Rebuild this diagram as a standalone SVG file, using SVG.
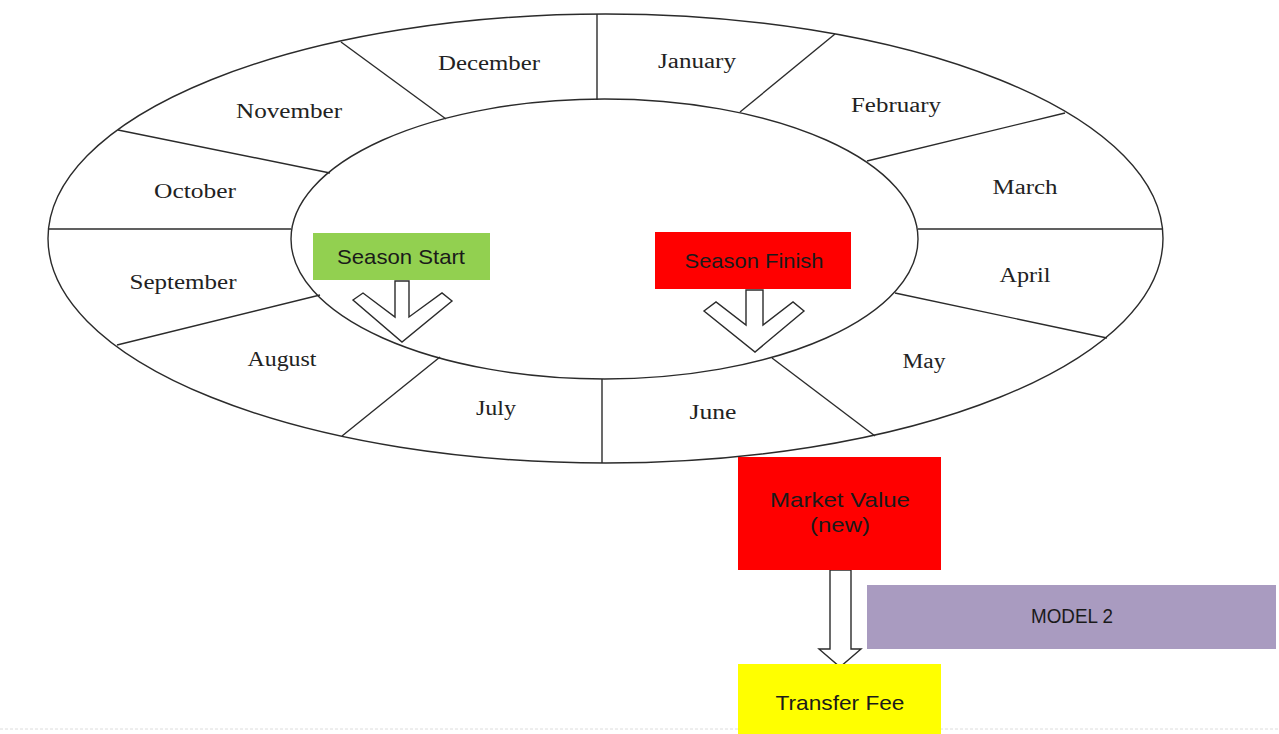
<svg xmlns="http://www.w3.org/2000/svg" width="1279" height="734" viewBox="0 0 1279 734">
<style>
.ring{fill:none;stroke:#2b2b2b;stroke-width:1.4}
.div{stroke:#2b2b2b;stroke-width:1.4}
.month{font-family:"Liberation Serif","DejaVu Serif",serif;font-size:20px;fill:#222;text-anchor:middle}
.lbl{font-family:"Liberation Sans","DejaVu Sans",sans-serif;font-size:21px;fill:#1a1a1a;text-anchor:middle}
.arrow{fill:#fff;stroke:#2b2b2b;stroke-width:1.4;stroke-linejoin:miter}
</style>
<rect width="1279" height="734" fill="#fff"/>
<line x1="0" y1="729" x2="1279" y2="729" stroke="#dcdcdc" stroke-width="1" stroke-dasharray="3,2"/>
<g id="wheel">
<ellipse class="ring" cx="605.5" cy="238.5" rx="557.5" ry="224.5"/>
<ellipse class="ring" cx="604.5" cy="239" rx="313.5" ry="140"/>
</g>
<g id="connectors">
<line class="div" x1="597" y1="14" x2="597" y2="100"/>
<line class="div" x1="341" y1="42" x2="446" y2="119"/>
<line class="div" x1="118" y1="130" x2="330" y2="173"/>
<line class="div" x1="48" y1="229" x2="291" y2="229"/>
<line class="div" x1="117" y1="345" x2="320" y2="295"/>
<line class="div" x1="342" y1="436" x2="440" y2="357"/>
<line class="div" x1="602" y1="379" x2="602" y2="463"/>
<line class="div" x1="772" y1="358" x2="875" y2="436"/>
<line class="div" x1="895" y1="293" x2="1107" y2="338"/>
<line class="div" x1="918" y1="229" x2="1163" y2="229"/>
<line class="div" x1="867" y1="161" x2="1065" y2="113"/>
<line class="div" x1="740" y1="112" x2="835" y2="34"/>
<polygon class="arrow" points="395,281 395,317 363,293 353,300 402,342 452,301 442,293 409,317 409,281"/>
<polygon class="arrow" points="746,290 746,325 716,302 704,311 755,352 804,311 793,302 763,325 763,290"/>
<polygon class="arrow" points="830,570 830,649 819,649 840,667 861,649 851,649 851,570"/>
</g>
<g id="months">
<text class="month" x="489" y="70" textLength="102" lengthAdjust="spacingAndGlyphs">December</text>
<text class="month" x="697" y="68" textLength="78" lengthAdjust="spacingAndGlyphs">January</text>
<text class="month" x="896" y="112" textLength="90" lengthAdjust="spacingAndGlyphs">February</text>
<text class="month" x="1025" y="194" textLength="65" lengthAdjust="spacingAndGlyphs">March</text>
<text class="month" x="1025" y="282" textLength="51" lengthAdjust="spacingAndGlyphs">April</text>
<text class="month" x="924" y="368" textLength="43" lengthAdjust="spacingAndGlyphs">May</text>
<text class="month" x="713" y="419" textLength="47" lengthAdjust="spacingAndGlyphs">June</text>
<text class="month" x="496" y="415" textLength="40" lengthAdjust="spacingAndGlyphs">July</text>
<text class="month" x="282" y="366" textLength="69" lengthAdjust="spacingAndGlyphs">August</text>
<text class="month" x="183" y="289" textLength="107" lengthAdjust="spacingAndGlyphs">September</text>
<text class="month" x="195" y="198" textLength="82" lengthAdjust="spacingAndGlyphs">October</text>
<text class="month" x="289" y="118" textLength="106" lengthAdjust="spacingAndGlyphs">November</text>
</g>
<g id="season-start">
<rect x="313" y="233" width="177" height="47" fill="#92D050"/>
<text class="lbl" x="401" y="264" textLength="128" lengthAdjust="spacingAndGlyphs">Season Start</text>
</g>
<g id="season-finish">
<rect x="655" y="232" width="196" height="57" fill="#FF0000"/>
<text class="lbl" x="754" y="268" textLength="139" lengthAdjust="spacingAndGlyphs">Season Finish</text>
</g>
<g id="market-value">
<rect x="738" y="457" width="203" height="113" fill="#FF0000"/>
<text class="lbl" x="840" y="507" textLength="140" lengthAdjust="spacingAndGlyphs">Market Value</text>
<text class="lbl" x="840" y="532" textLength="60" lengthAdjust="spacingAndGlyphs">(new)</text>
</g>
<g id="model-2">
<rect x="867" y="585" width="409" height="64" fill="#A99BC0"/>
<text class="lbl" x="1072" y="623" font-size="17" textLength="82" lengthAdjust="spacingAndGlyphs">MODEL 2</text>
</g>
<g id="transfer-fee">
<rect x="738" y="664" width="203" height="70" fill="#FFFF00"/>
<text class="lbl" x="840" y="710" textLength="129" lengthAdjust="spacingAndGlyphs">Transfer Fee</text>
</g>
</svg>
